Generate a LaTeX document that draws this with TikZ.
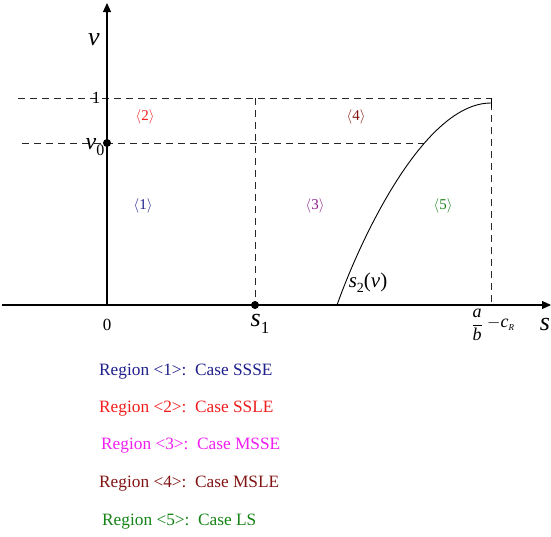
\documentclass[tikz,border=0pt]{standalone}
\usepackage{fontspec}
\setmainfont{Liberation Serif}
\usetikzlibrary{arrows.meta}
\definecolor{cnavy}{RGB}{30,30,140}
\definecolor{cred}{RGB}{240,30,30}
\definecolor{cmag}{RGB}{240,30,240}
\definecolor{cpurple}{RGB}{140,30,140}
\definecolor{cmaroon}{RGB}{130,20,20}
\definecolor{cgreen}{RGB}{20,130,20}
\tikzset{
  axis/.style={line width=1.1pt,-{Triangle[length=9pt,width=8pt]}},
  guide/.style={line width=1pt,dash pattern=on 7pt off 5pt,black!85},
  dot/.style={circle,fill=black,inner sep=0pt,minimum size=8pt},
  reg/.style={font=\fontsize{15}{16}\selectfont,inner sep=0pt},
  leg/.style={font=\fontsize{17.3}{19}\selectfont,anchor=west,inner sep=0pt},
  lab/.style={inner sep=0pt}
}
\begin{document}
\begin{tikzpicture}[x=1pt,y=-1pt]
\useasboundingbox (0,0) rectangle (551,536);
% coordinates
\coordinate (O) at (107,305);
\coordinate (xs) at (2,305);
\coordinate (xe) at (551,305);
\coordinate (ye) at (107,3);
\coordinate (d1a) at (18,98);
\coordinate (d1b) at (491,98);
\coordinate (d0a) at (22,143);
\coordinate (d0b) at (424,143);
\coordinate (s1top) at (255,98);
\coordinate (s1bot) at (255,305);
\coordinate (Rtop) at (491,103);
\coordinate (Rbot) at (491,305);
\coordinate (Rtick) at (491,98);
\coordinate (Rtickb) at (491,108);
\coordinate (cst) at (337,305);
% guides
\draw[guide] (d1a) -- (d1b);
\draw[guide] (d0a) -- (d0b);
\draw[guide] (s1top) -- (s1bot);
\draw[guide] (Rtop) -- (Rbot);
% axes
\draw[axis] (xs) -- (xe);
\draw[axis] (O) -- (ye);
% curve
\draw[line width=0.9pt] (cst) .. controls (362,235) and (425,103) .. (Rtop);
\draw[line width=0.9pt] (Rtick) -- (Rtickb);
% dots
\node[dot] (v0dot) at (107,143) {};
\node[dot] (s1dot) at (255,305) {};
% labels
\node[lab,font=\fontsize{26}{26}\selectfont] (vlab) at (94,40) {\textit{v}};
\node[lab,font=\fontsize{17}{17}\selectfont] (one) at (96,98) {1};
\node[lab,font=\fontsize{24}{24}\selectfont] (v0lab) at (95,147) {\textit{v}\raisebox{-6pt}{\fontsize{16}{16}\selectfont 0}};
\node[lab,font=\fontsize{17}{17}\selectfont] (zero) at (107,325) {0};
\node[lab,font=\fontsize{26}{26}\selectfont] (s1lab) at (260,324) {\textit{s}\raisebox{-7pt}{\fontsize{17}{17}\selectfont 1}};
\node[lab,font=\fontsize{26}{26}\selectfont] (slab) at (545,324) {\textit{s}};
\node[lab,font=\fontsize{21}{21}\selectfont] (s2lab) at (368,283) {\textit{s}\raisebox{-5pt}{\fontsize{14}{14}\selectfont 2}(\textit{v})};
\node[lab,font=\fontsize{18}{18}\selectfont,anchor=center] (ablab) at (477,325) {$\displaystyle\frac{\textit{a}}{\textit{b}}$};
\node[lab,font=\fontsize{18}{18}\selectfont,anchor=west] (crlab) at (487,324) {$-$\textit{c}\raisebox{-3pt}{\fontsize{9}{9}\selectfont\textit{R}}};
% region labels
\node[reg,text=cred] (r2) at (145,117) {$\langle$2$\rangle$};
\node[reg,text=cmaroon] (r4) at (356,117) {$\langle$4$\rangle$};
\node[reg,text=cnavy] (r1) at (143,206) {$\langle$1$\rangle$};
\node[reg,text=cpurple] (r3) at (315,206) {$\langle$3$\rangle$};
\node[reg,text=cgreen] (r5) at (443,206) {$\langle$5$\rangle$};
% legend
\node[leg,text=cnavy] (l1) at (99,372) {Region <1>:\ \ Case SSSE};
\node[leg,text=cred] (l2) at (99,409) {Region <2>:\ \ Case SSLE};
\node[leg,text=cmag] (l3) at (101,446) {Region <3>:\ \ Case MSSE};
\node[leg,text=cmaroon] (l4) at (99,484) {Region <4>:\ \ Case MSLE};
\node[leg,text=cgreen] (l5) at (102,522) {Region <5>:\ \ Case LS};
\end{tikzpicture}
\end{document}
